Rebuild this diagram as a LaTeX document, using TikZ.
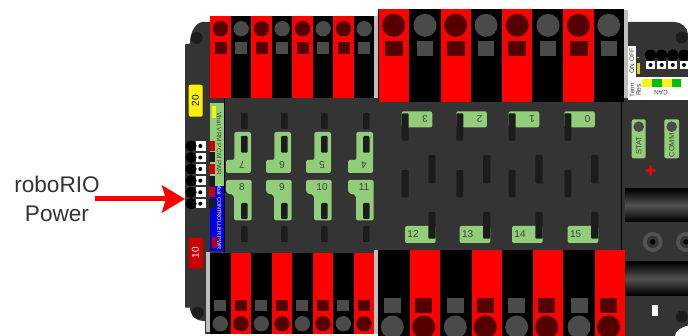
\documentclass[tikz,border=0pt]{standalone}
\usepackage{fontspec}
\setmainfont{Liberation Sans}
\usepackage{xcolor}
\usetikzlibrary{arrows.meta,positioning}
\definecolor{pdpbody}{RGB}{52,52,52}
\definecolor{pdpslot}{RGB}{28,28,28}
\definecolor{pdpgreen}{RGB}{146,205,122}
\definecolor{pdpstrip}{RGB}{190,190,190}
\definecolor{lugred}{RGB}{84,0,0}
\definecolor{luggray}{RGB}{74,74,74}
\definecolor{pdpblue}{RGB}{0,0,225}
\definecolor{tagred}{RGB}{205,0,0}

\begin{document}
\begin{tikzpicture}[
    x=1pt, y=-1pt,
    redbar/.style={fill=red},
    lugr/.style={fill=lugred},
    lugg/.style={fill=luggray},
    fuse/.style={fill=pdpgreen, rounded corners=2pt},
    slot/.style={fill=pdpslot, rounded corners=1pt},
    fusetext/.style={font=\fontsize{10}{10}\selectfont, text=black!75, inner sep=0pt},
    tinytext/.style={font=\fontsize{6.5}{6.5}\selectfont, inner sep=0pt},
    arr/.style={-{Stealth[length=23pt, width=27pt, inset=4pt]}, line width=5pt, red}
]
    \useasboundingbox (0,0) rectangle (688,336);

    % Board outline
    \fill[pdpbody] (185,307.7) -- (185,44.5) -- (190,43.5)
        .. controls (190,32) and (196,22) .. (203,22)
        -- (675,22) .. controls (681,22) and (688,28) .. (688,34)
        -- (688,325.5) .. controls (681,327) and (675,331) .. (675,336)
        -- (624,336) -- (624,334) -- (205,334) -- (205,321) -- (203,321)
        .. controls (196,321) and (190,315) .. (190,307.7) -- cycle;
    \fill[pdpslot] (196.7,38) circle[radius=6];
    \fill[pdpslot] (197.7,312.7) circle[radius=6];
    \fill[pdpslot] (681.7,37.5) circle[radius=6];
    \fill[pdpslot] (681.7,316.7) circle[radius=6];

    % Light strips beside the terminal blocks
    \fill[pdpstrip] (374,16) rectangle (378,98);
    \fill[pdpstrip] (624,10) rectangle (627.7,98);
    \fill[pdpstrip] (206.3,252) rectangle (210,332);
    \fill[pdpstrip] (374,250) rectangle (378,334);

    % Top small terminal block
    \fill[black] (210,16) rectangle (374,98);
    \foreach \cx in {220.5,261.5,302.5,343.5} {
        \fill[redbar] ({\cx-10.2},16) rectangle ({\cx+10.2},98);
        \fill[lugr] (\cx,28.7) circle[radius=7.7];
        \fill[lugr] ({\cx-6},42.3) rectangle ({\cx+6},53.7);
        \fill[lugg] ({\cx+20.7},28.7) circle[radius=7.7];
        \fill[lugg] ({\cx+14.7},42.3) rectangle ({\cx+26.7},53.7);
    }

    % Top large terminal block
    \fill[black] (378.3,9.3) rectangle (624.3,102);
    \foreach \cx/\gx in {393.7/425,455.7/486,517.2/548,578.5/608.7} {
        \fill[redbar] ({\cx-15.2},9.3) rectangle ({\cx+15.2},102);
        \fill[lugr] (\cx,25.3) circle[radius=11.5];
        \fill[lugr] ({\cx-9},40.8) rectangle ({\cx+9},56.5);
        \fill[lugg] (\gx,25.3) circle[radius=11.5];
        \fill[lugg] ({\gx-8},40.8) rectangle ({\gx+8},56.5);
    }

    % Bottom small terminal block
    \fill[black] (210,252.7) rectangle (374,334);
    \foreach \cx in {241,282,323,364} {
        \fill[redbar] ({\cx-10.2},252.7) rectangle ({\cx+10.2},334);
        \fill[lugr] (\cx,323.7) circle[radius=7.7];
        \fill[lugr] ({\cx-6},300.5) rectangle ({\cx+6},311.5);
        \fill[lugg] ({\cx-20.7},323.7) circle[radius=7.7];
        \fill[lugg] ({\cx-26.7},300.5) rectangle ({\cx-14.7},311.5);
    }

    % Bottom large terminal block
    \fill[black] (378.3,250) rectangle (624.3,336);
    \foreach \cx/\lx/\gx in {424.7/423.7/392.3,486.5/485.3/455.3,548/546.7/516.7,609.5/608.7/579} {
        \fill[redbar] ({\cx-15},250) rectangle ({\cx+15},336);
        \fill[lugr] (\lx,327) circle[radius=11.5];
        \fill[lugr] ({\lx-8.5},298.5) rectangle ({\lx+8.5},313.5);
        \fill[lugg] (\gx,327) circle[radius=11.5];
        \fill[lugg] ({\gx-8.5},298.5) rectangle ({\gx+8.5},313.5);
    }

    % Dividers
    \draw[black, line width=0.8pt] (224.3,98) -- (224.3,252);
    \draw[black, line width=0.8pt] (621.7,102) -- (621.7,250);

    % Left column of fuse holders
    \foreach \dx/\up/\dn in {0/7/8, 40/6/9, 80/5/10, 122/4/11} {
        \begin{scope}[xshift=\dx pt]
            \fill[slot] (241,113) rectangle (247.7,129);
            \fill[fuse] (234.3,132) -- (251,132) -- (251,173) -- (226,173)
                -- (226,160) -- (234.3,160) -- cycle;
            \fill[slot] (241,136) rectangle (247.7,152.7);
            \node[fusetext, rotate=180] (fuse\up) at (242,164.5) {\up};
            \fill[fuse] (226,180) -- (251.7,180) -- (251.7,220.3) -- (234,220.3)
                -- (234,195) -- (226,193) -- cycle;
            \fill[slot] (241,203) rectangle (247.7,219);
            \fill[slot] (241,226) rectangle (247.7,242);
            \node[fusetext] (fuse\dn) at (242,187) {\dn};
        \end{scope}
    }

    % Right column of fuse holders
    \foreach \px/\up/\dn in {401.7/3/12, 456.3/2/13, 508.7/1/14, 564.3/0/15} {
        \begin{scope}[xshift=\px pt]
            \fill[fuse] (0,111.3) rectangle (30.6,127.3);
            \fill[slot] (0,113.3) rectangle (7,140.7);
            \fill[slot] (26.7,155) rectangle (34,183.3);
            \fill[slot] (0,170) rectangle (7,197.3);
            \fill[fuse] (3.3,226) rectangle (34,243);
            \fill[slot] (26.7,212) rectangle (34,238.7);
            \node[fusetext, rotate=180] (fuse\up) at (23.3,119.3) {\up};
            \node[fusetext] (fuse\dn) at (11.3,234) {\dn};
        \end{scope}
    }

    % Fuse tags
    \fill[yellow, rounded corners=2pt] (188.7,84.7) rectangle (202.7,116.7);
    \node[font=\fontsize{10}{10}\selectfont, rotate=90, inner sep=0pt] (tagtwenty) at (195.5,100.7) {20};
    \fill[tagred, rounded corners=1pt] (188.7,237.7) rectangle (203,268.7);
    \node[font=\fontsize{10}{10}\selectfont, rotate=90, text=white, inner sep=0pt] (tagten) at (195.5,253) {10};

    % Power strips
    \fill[pdpgreen] (210,103.3) rectangle (224,186);
    \fill[yellow] (211.7,106) rectangle (216,117.7);
    \node[tinytext, rotate=-90, text=black!75] (vrmlabel) at (219.3,144) {Vbat VRM PCM PWR};
    \fill[pdpblue] (210,186) rectangle (224.3,251);
    \fill[red!75!black] (212,236.7) rectangle (217,248);
    \node[tinytext, rotate=-90, text=white, font=\fontsize{5.6}{5.6}\selectfont] (ctrllabel) at (219.3,217) {Vbat CONTROLLER PWR};

    % Side connector
    \foreach \i/\yy/\tint in {1/146/red!80!black, 2/157.5/pdpslot, 3/169/red!80!black, 4/180.7/pdpslot, 5/192.3/red!80!black, 6/203.7/pdpslot} {
        \fill[\tint] (209,{\yy-5}) rectangle (215,{\yy+5});
        \fill[white] (196,{\yy-4.8}) rectangle (205.7,{\yy+4.8});
        \fill[black] (200.3,\yy) circle[radius=2];
        \fill[black] (191,\yy) circle[radius=5.6];
    }

    % CAN corner
    \fill[white] (628,45.7) rectangle (635.7,76.7);
    \fill[white] (628,76.7) rectangle (688,100);
    \fill[yellow!85!black] (636.7,62.7) rectangle (640,74);
    \fill[yellow!85!black] (638,57.5) circle[radius=0.9];
    \node[tinytext, rotate=90, text=black!75] (onoff) at (632,61.2) {ON OFF};
    \fill[yellow!90!white] (641.7,79) rectangle (652.3,87);
    \fill[green!75!black] (652.3,79) rectangle (662.3,87);
    \fill[yellow!90!white] (662.3,79) rectangle (671.7,87);
    \fill[green!75!black] (671.7,79) rectangle (681,87);
    \node[tinytext, rotate=90, align=center, text=black!75] (termres) at (635.5,90) {Term\\Res};
    \node[tinytext, rotate=180, text=black!75] (canlabel) at (661,92.7) {CAN};
    \foreach \cx in {650.5,661.7,672.8,684} {
        \fill[black] (\cx,55.3) circle[radius=5.7];
        \fill[white] ({\cx-4.4},60.7) rectangle ({\cx+4.4},69.3);
        \fill[black] (\cx,65) circle[radius=2];
    }

    % Status lamps
    \fill[fuse] (631.7,119.3) rectangle (645.7,158.3);
    \fill[lugg] (638.7,126.7) circle[radius=5.3];
    \node[tinytext, rotate=90, font=\fontsize{7.5}{7.5}\selectfont, text=black!75] (stat) at (638.7,145.5) {STAT};
    \fill[fuse] (664.3,119.3) rectangle (679,158.3);
    \fill[lugg] (671.7,126.7) circle[radius=5.3];
    \node[tinytext, rotate=90, font=\fontsize{7.5}{7.5}\selectfont, text=black!75] (comm) at (671.7,145.5) {COMM};

    % Battery posts
    \node[font=\bfseries\fontsize{20}{20}\selectfont, text=red, inner sep=0pt] (plus) at (650.7,172) {+};
    \shade[top color=black, bottom color=black, middle color=black!68!white] (625,188.7) rectangle (688,221.7);
    \shade[top color=black, bottom color=black, middle color=black!68!white] (625,262) rectangle (688,295.3);
    \foreach \cx in {652.7,686} {
        \fill[black!68!white] (\cx,242) circle[radius=10];
        \fill[pdpbody] (\cx,242) circle[radius=6];
        \fill[black] (\cx,242) circle[radius=2.7];
    }
    \fill[white] (652.3,305) rectangle (657.7,316);

    % Label and arrow
    \node[font=\fontsize{22.6}{29}\selectfont, align=center, text=black!80, inner sep=0pt] (rio) at (57,199) {roboRIO\\Power};
    \coordinate (conn) at (185,199);
    \draw[arr] ([xshift=-5pt]rio.east |- conn) -- (conn);
\end{tikzpicture}
\end{document}
